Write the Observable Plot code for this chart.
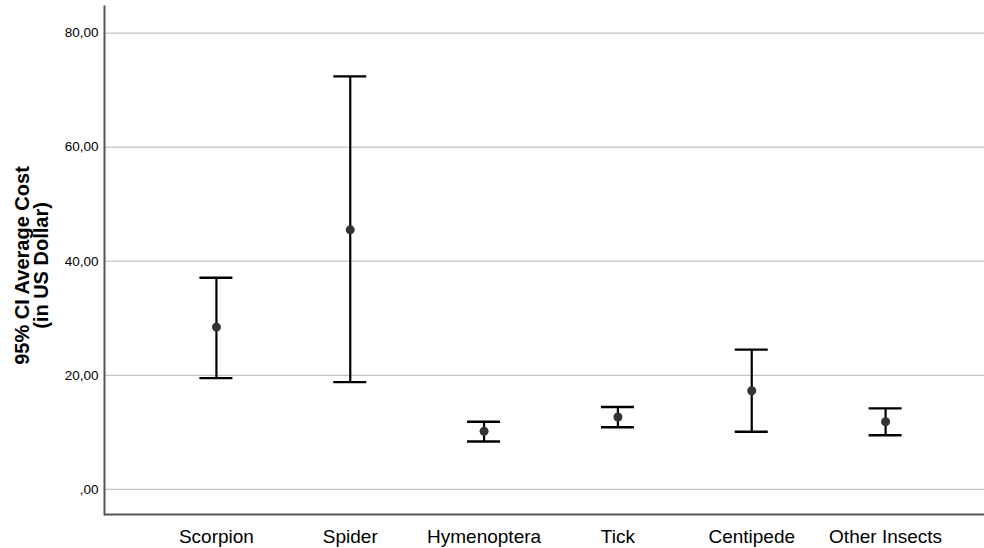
<!DOCTYPE html>
<html>
<head>
<meta charset="utf-8">
<script src="https://cdn.jsdelivr.net/npm/d3@7"></script>
<script src="https://cdn.jsdelivr.net/npm/@observablehq/plot@0.6"></script>
<style>
  html, body { margin: 0; padding: 0; background: #fff; }
  #chart svg { display: block; }
</style>
</head>
<body>
<div id="chart"></div>
<script>
const categories = ["Scorpion", "Spider", "Hymenoptera", "Tick", "Centipede", "Other Insects"];
const meanCost  = [28.45, 45.5, 10.2, 12.7, 17.3, 11.85];
const lowerCI   = [19.5, 18.8, 8.4, 10.9, 10.1, 9.5];
const upperCI   = [37.1, 72.4, 11.85, 14.45, 24.5, 14.2];
const yTicks = [0, 20, 40, 60, 80];
const yTickLabels = [",00", "20,00", "40,00", "60,00", "80,00"];
const yLabel = "95% CI Average Cost\n(in US Dollar)";

const rows = categories.map((c, i) => ({cat: c, mean: meanCost[i], lo: lowerCI[i], hi: upperCI[i]}));
const yDomain = [-4.4, 84.65];
const tickLabelOf = new Map(yTicks.map((t, i) => [t, yTickLabels[i]]));

const chart = Plot.plot({
  width: 984,
  height: 548,
  marginLeft: 104,
  marginRight: 0,
  marginTop: 6,
  marginBottom: 34,
  style: {fontFamily: "'Liberation Sans', Arial, sans-serif", background: "#fff", color: "#000"},
  x: {type: "band", domain: categories, range: [149, 952], paddingInner: 0.7534, paddingOuter: 0.3767, round: false, label: null},
  y: {domain: yDomain, label: null},
  marks: [
    Plot.ruleY(yTicks, {stroke: "#c4c4c4", strokeWidth: 1.3}),
    Plot.frame({anchor: "left", stroke: "#555", strokeWidth: 2}),
    Plot.ruleY([yDomain[0]], {stroke: "#555", strokeWidth: 2}),
    Plot.axisY({ticks: yTicks, tickFormat: d => tickLabelOf.get(d), tickSize: 0, tickPadding: 6, fontSize: 13.5, label: null}),
    Plot.axisX({tickSize: 0, tickPadding: 14.5, fontSize: 19, label: null}),
    Plot.ruleX(rows, {x: "cat", y1: "lo", y2: "hi", stroke: "#000", strokeWidth: 2.2}),
    Plot.tickY(rows, {x: "cat", y: "lo", stroke: "#000", strokeWidth: 2.4}),
    Plot.tickY(rows, {x: "cat", y: "hi", stroke: "#000", strokeWidth: 2.4}),
    Plot.dot(rows, {x: "cat", y: "mean", r: 4.5, fill: "#333", stroke: null}),
    Plot.text([yLabel], {frameAnchor: "left", dx: -72, dy: 5, rotate: -90, fontSize: 20, fontWeight: "bold", lineHeight: 0.95, textAnchor: "middle", fill: "#000"})
  ]
});
document.getElementById("chart").appendChild(chart);
</script>
</body>
</html>
